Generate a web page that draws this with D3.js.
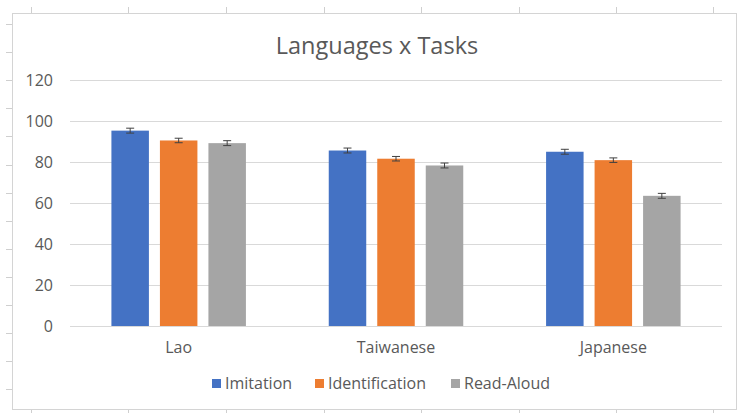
<!DOCTYPE html>
<html>
<head>
<meta charset="utf-8">
<script src="https://cdn.jsdelivr.net/npm/d3@7"></script>
<style>
  html, body { margin: 0; padding: 0; background: #ffffff; }
  svg { display: block; }
  text { font-family: "Open Sans", "Noto Sans", sans-serif; fill: #595959; }
</style>
</head>
<body>
<svg id="chart" width="739" height="413"></svg>
<script>
const categories = ["Lao", "Taiwanese", "Japanese"];
const seriesNames = ["Imitation", "Identification", "Read-Aloud"];
const seriesColors = ["#4472c4", "#ed7d31", "#a5a5a5"];
const imitation = [95.3, 85.6, 85.0];
const identification = [90.5, 81.6, 80.9];
const readAloud = [89.2, 78.3, 63.5];
const errImitation = [1.2, 1.2, 1.2];
const errIdentification = [1.1, 1.1, 1.1];
const errReadAloud = [1.2, 1.2, 1.2];
const yTicks = [0, 20, 40, 60, 80, 100, 120];
const titleText = "Languages x Tasks";

const values = [imitation, identification, readAloud];
const errors = [errImitation, errIdentification, errReadAloud];

const svg = d3.select("#chart");

// spreadsheet backdrop: border and cell tick marks
const frame = svg.append("g");
frame.append("rect").attr("x", 12.5).attr("y", 13.5).attr("width", 724).attr("height", 396)
  .attr("fill", "#ffffff").attr("stroke", "#d4d4d4").attr("stroke-width", 1);
const colX = [31, 128, 226, 324, 421, 519, 616, 713];
colX.forEach(cx => {
  frame.append("line").attr("x1", cx + 0.5).attr("x2", cx + 0.5).attr("y1", 7).attr("y2", 13)
    .attr("stroke", "#cfcfcf");
  frame.append("line").attr("x1", cx + 0.5).attr("x2", cx + 0.5).attr("y1", 410).attr("y2", 413)
    .attr("stroke", "#cfcfcf");
});
for (let ry = 24; ry < 410; ry += 28.1) {
  frame.append("line").attr("x1", 6).attr("x2", 12).attr("y1", Math.round(ry) + 0.5).attr("y2", Math.round(ry) + 0.5)
    .attr("stroke", "#cfcfcf");
}

const x0 = d3.scaleBand().domain(categories).range([70, 722]).paddingInner(0).paddingOuter(0);
const groupW = 134.5;
const x1 = d3.scaleBand().domain(seriesNames)
  .range([x0.bandwidth() / 2 - groupW / 2, x0.bandwidth() / 2 + groupW / 2])
  .paddingInner(0.227).paddingOuter(0);
const y = d3.scaleLinear().domain([0, 120]).range([326, 80]);

// gridlines
const yAxis = d3.axisLeft(y).tickValues(yTicks).tickSize(-(722 - 70)).tickPadding(17);
const gy = svg.append("g").attr("transform", "translate(70,0)").call(yAxis);
gy.select(".domain").remove();
gy.selectAll(".tick line").attr("stroke", "#d9d9d9").attr("stroke-width", 1);
gy.selectAll(".tick text").attr("fill", "#595959").style("font-size", "16px")
  .style("font-family", "'Open Sans', sans-serif");

// bars
const groups = svg.append("g").selectAll("g").data(categories).join("g")
  .attr("transform", d => `translate(${x0(d)},0)`);

seriesNames.forEach((s, si) => {
  groups.append("rect")
    .attr("x", x1(s))
    .attr("width", x1.bandwidth())
    .attr("y", (d, ci) => y(values[si][ci]))
    .attr("height", (d, ci) => y(0) - y(values[si][ci]))
    .attr("fill", seriesColors[si]);
});

// error bars
seriesNames.forEach((s, si) => {
  groups.each(function (d, ci) {
    const g = d3.select(this);
    const cx = x1(s) + x1.bandwidth() / 2;
    const v = values[si][ci], e = errors[si][ci];
    const yt = y(v + e), yb = y(v - e);
    g.append("line").attr("x1", cx).attr("x2", cx).attr("y1", yt).attr("y2", yb)
      .attr("stroke", "#404040").attr("stroke-width", 1);
    [yt, yb].forEach(yy => g.append("line").attr("x1", cx - 4).attr("x2", cx + 4)
      .attr("y1", yy).attr("y2", yy).attr("stroke", "#404040").attr("stroke-width", 1));
  });
});

// category labels
svg.append("g").selectAll("text").data(categories).join("text")
  .attr("x", d => x0(d) + x0.bandwidth() / 2)
  .attr("y", 352.5)
  .attr("text-anchor", "middle")
  .style("font-size", "16px")
  .text(d => d);

// title
svg.append("text").attr("x", 377).attr("y", 53.5).attr("text-anchor", "middle")
  .style("font-size", "23.5px").text(titleText);

// legend
const legendX = [212, 315, 451];
const lg = svg.append("g");
seriesNames.forEach((s, i) => {
  lg.append("rect").attr("x", legendX[i]).attr("y", 379).attr("width", 9).attr("height", 9)
    .attr("fill", seriesColors[i]);
  lg.append("text").attr("x", legendX[i] + 13).attr("y", 389)
    .style("font-size", "16px").text(s);
});
</script>
</body>
</html>
